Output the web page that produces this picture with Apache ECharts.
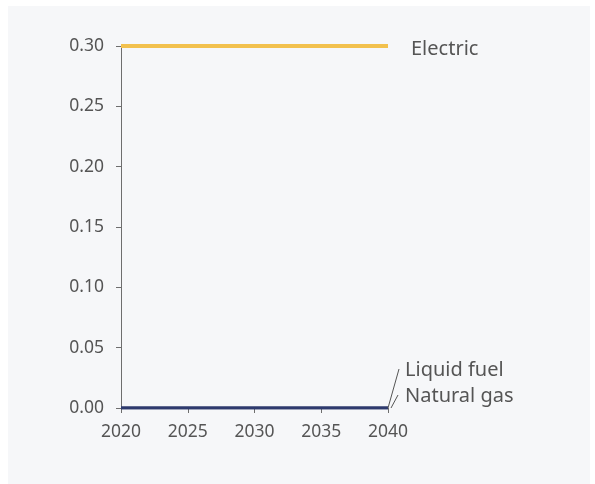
<!DOCTYPE html>
<html>
<head>
<meta charset="utf-8">
<script src="https://cdn.jsdelivr.net/npm/echarts@6/dist/echarts.min.js"></script>
<style>
  html, body { margin: 0; padding: 0; background: #ffffff; }
  #chart { width: 595px; height: 484px; }
</style>
</head>
<body>
<div id="chart"></div>
<script>
// Years on the horizontal axis
const years = [2020, 2021, 2022, 2023, 2024, 2025, 2026, 2027, 2028, 2029, 2030,
               2031, 2032, 2033, 2034, 2035, 2036, 2037, 2038, 2039, 2040];
// Series values per year
const electric    = [0.30, 0.30, 0.30, 0.30, 0.30, 0.30, 0.30, 0.30, 0.30, 0.30, 0.30,
                     0.30, 0.30, 0.30, 0.30, 0.30, 0.30, 0.30, 0.30, 0.30, 0.30];
const liquidFuel  = [0, 0, 0, 0, 0, 0, 0, 0, 0, 0, 0, 0, 0, 0, 0, 0, 0, 0, 0, 0, 0];
const naturalGas  = [0, 0, 0, 0, 0, 0, 0, 0, 0, 0, 0, 0, 0, 0, 0, 0, 0, 0, 0, 0, 0];
// Axis ticks
const yTicks = [0, 0.05, 0.10, 0.15, 0.20, 0.25, 0.30];
const xTicks = [2020, 2025, 2030, 2035, 2040];

const FONT = '"Noto Sans", Lato, sans-serif';
const TEXT = '#555555';
const AXIS = '#6e6e6e';

const chart = echarts.init(document.getElementById('chart'), null, { renderer: 'canvas' });

function pairs(vals) { return years.map((y, i) => [y, vals[i]]); }

chart.setOption({
  backgroundColor: '#ffffff',
  animation: false,
  grid: { left: 121, right: 207, top: 46, bottom: 76 },
  xAxis: {
    type: 'value',
    min: xTicks[0], max: xTicks[xTicks.length - 1], interval: 5,
    axisLine: { show: true, lineStyle: { color: AXIS, width: 1 } },
    axisTick: { show: true, length: 5, lineStyle: { color: AXIS } },
    splitLine: { show: false },
    axisLabel: { color: TEXT, fontFamily: FONT, fontSize: 17.5, margin: 15, formatter: v => String(v) }
  },
  yAxis: {
    type: 'value',
    min: yTicks[0], max: yTicks[yTicks.length - 1], interval: 0.05,
    axisLine: { show: true, lineStyle: { color: AXIS, width: 1 } },
    axisTick: { show: true, length: 5, lineStyle: { color: AXIS } },
    splitLine: { show: false },
    axisLabel: { color: TEXT, fontFamily: FONT, fontSize: 17.5, margin: 17, formatter: v => v.toFixed(2) }
  },
  series: [
    {
      name: 'Electric', type: 'line', data: pairs(electric),
      showSymbol: false, symbol: 'none', z: 3,
      lineStyle: { color: '#f2c14e', width: 4 },
      endLabel: { show: true, formatter: 'Electric', color: TEXT, fontFamily: FONT, fontSize: 20, distance: 23, offset: [0, 3] }
    },
    {
      name: 'Liquid fuel', type: 'line', data: pairs(liquidFuel),
      symbol: 'none', z: 2,
      lineStyle: { color: '#2e3a6e', width: 3 }
    },
    {
      name: 'Natural gas', type: 'line', data: pairs(naturalGas),
      symbol: 'none', z: 2,
      lineStyle: { color: '#2e3a6e', width: 3 }
    }
  ]
});

// Background panel plus labels for the two overlapping series at zero,
// placed relative to their final data point with short leader lines.
const last = years.length - 1;
const pLiquid = chart.convertToPixel({ gridIndex: 0 }, [years[last], liquidFuel[last]]);
const pGas = chart.convertToPixel({ gridIndex: 0 }, [years[last], naturalGas[last]]);

chart.setOption({
  graphic: [
    {
      type: 'rect', z: -10, silent: true,
      shape: { x: 8, y: 6, width: 582, height: 478 },
      style: { fill: '#f6f7f9' }
    },
    {
      type: 'line', silent: true, z: 10,
      shape: { x1: pLiquid[0], y1: pLiquid[1], x2: pLiquid[0] + 11, y2: pLiquid[1] - 39 },
      style: { stroke: '#555555', lineWidth: 1 }
    },
    {
      type: 'text', silent: true, z: 10,
      x: pLiquid[0] + 17, y: pLiquid[1] - 38,
      style: { text: 'Liquid fuel', fill: TEXT, font: '20px ' + FONT, textVerticalAlign: 'middle', verticalAlign: 'middle' }
    },
    {
      type: 'line', silent: true, z: 10,
      shape: { x1: pGas[0] + 3, y1: pGas[1], x2: pGas[0] + 10, y2: pGas[1] - 13 },
      style: { stroke: '#555555', lineWidth: 1 }
    },
    {
      type: 'text', silent: true, z: 10,
      x: pGas[0] + 17, y: pGas[1] - 12,
      style: { text: 'Natural gas', fill: TEXT, font: '20px ' + FONT, textVerticalAlign: 'middle', verticalAlign: 'middle' }
    }
  ]
});
</script>
</body>
</html>
